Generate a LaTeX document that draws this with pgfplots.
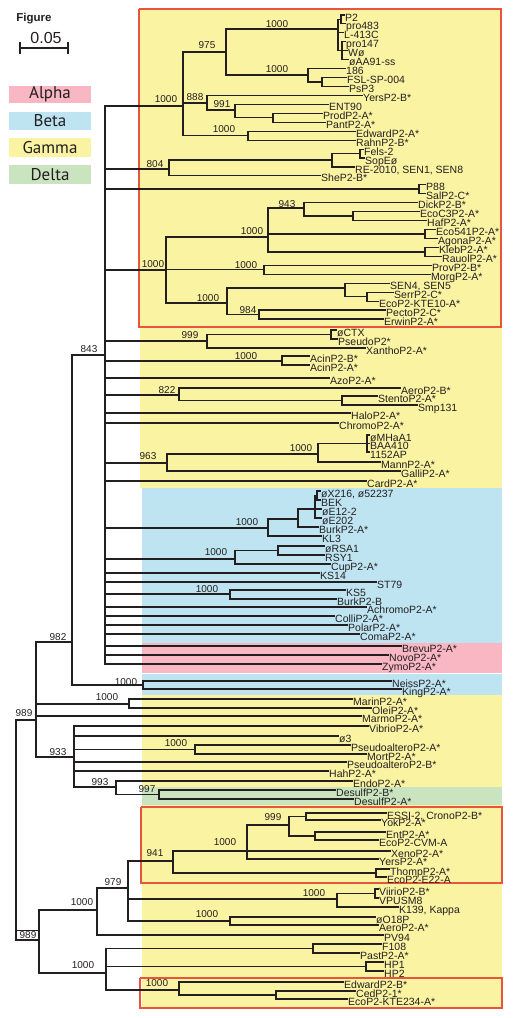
\documentclass[border=0pt]{standalone}
\usepackage{pgfplots}
\pgfplotsset{compat=1.18}
\usepackage{pgfplotstable}
\usepackage{fontspec}
\setmainfont{Liberation Sans}
\newfontfamily\legfont{PT Sans}
\definecolor{yel}{HTML}{FAF3A2}
\definecolor{blu}{HTML}{BEE4F2}
\definecolor{pnk}{HTML}{F8B7C3}
\definecolor{grn}{HTML}{CBE4C0}
\definecolor{redb}{HTML}{E8553C}
\definecolor{txt}{HTML}{231F20}

% edges: parent x, parent y, child x, child y (pixel units, y downwards)
\pgfplotstableread{
px py cx cy
16 720 36 720
16 720 39 940
36 720 72 642
36 720 129 704
36 720 361 716
36 720 74 757
72 642 105 355
72 642 143 685
105 355 183 106
105 355 169 169
105 355 419 189
105 355 166 270
105 355 207 341
105 355 282 361
105 355 329 378
105 355 179 395
105 355 350 413
105 355 338 423
105 355 167 463
105 355 366 481
105 355 268 528
105 355 235 559
105 355 319 573
105 355 376 582
105 355 230 594
105 355 366 607
105 355 334 616
105 355 347 625
105 355 359 634
105 355 401 646
105 355 388 655
105 355 381 664
183 106 226 52
183 106 207 103
183 106 248 135.7
226 52 338 29
226 52 308 75
338 29 341 19.5
338 29 343 32.9
338 29 342 50.8
341 19.5 344 15
341 19.5 345 23.9
342 50.8 345 41.8
342 50.8 347 50.8
342 50.8 348 59.7
308 75 345 68.6
308 75 322 82
322 82 346 77.6
322 82 348 86.5
207 103 362 95.5
207 103 235 110
235 110 328 104.4
235 110 273 117.8
273 117.8 322 113.3
273 117.8 325 122.3
248 135.7 355 131.2
248 135.7 355 140.2
169 169 332 160
169 169 320 175.9
332 160 360 153.5
332 160 354 167
360 153.5 363 149.1
360 153.5 364 158
419 189 425 184.9
419 189 425 193.8
166 270 268 237
166 270 264 269.8
166 270 227 303
268 237 304 208
268 237 425 234
268 237 425 252
304 208 417 202.7
304 208 353 216
353 216 419 211.7
353 216 426 220.6
425 234 435 229.6
425 234 437 238.5
425 252 438 247.4
425 252 441 256.4
264 269.8 431 265.3
264 269.8 430 274.3
227 303 345 288
227 303 259 314.5
345 288 389 283.2
345 288 367 296.6
367 296.6 393 292.1
367 296.6 378 301.1
259 314.5 385 310
259 314.5 383 319
207 341 331 334.5
207 341 365 348
331 334.5 336 330
331 334.5 337 339
282 361 309 356
282 361 309 365
179 395 400 388
179 395 342 400.5
342 400.5 377 396
342 400.5 417 405
167 463 318 454
167 463 400 471
318 454 367 443.5
318 454 380 462
367 443.5 369 435
367 443.5 369 443.5
367 443.5 369 452
268 528 298 519
268 528 321 536
298 519 315 509
298 519 318 527
315 509 317 495.5
315 509 321 509
315 509 321 518
317 495.5 320 491
317 495.5 320 500
235 559 278 550.5
235 559 330 564
278 550.5 324 546
278 550.5 324 555
230 594 345 590
230 594 336 599
143 685 391 681
143 685 401 689
129 704 352 699
129 704 371 708
74 757 368 726
74 757 338 736
74 757 195 749.5
74 757 346 762
74 757 328 771
74 757 116 787
195 749.5 350 745
195 749.5 366 754
116 787 352 781
116 787 159 794.5
159 794.5 335 790
159 794.5 353 799
39 940 97 910
39 940 106 973
97 910 128 888
97 910 383 935
128 888 173 861
128 888 337 899
128 888 230 921
173 861 247 851
173 861 376 873
247 851 289 825
247 851 390 851
247 851 378 859
289 825 306 816.5
289 825 315 836
306 816.5 386 813
306 816.5 380 820
315 836 385 832
315 836 378 840
376 873 389 869
376 873 386 877
337 899 375 893.5
337 899 398 907
375 893.5 378 889
375 893.5 378 898
230 921 375 917
230 921 378 925
106 973 313 948.5
106 973 366 966.5
106 973 179 990
313 948.5 381 944
313 948.5 359 953
366 966.5 383 962
366 966.5 383 971
179 990 343 982
179 990 276 995
276 995 355 991
276 995 347 999
}\edges

\pgfplotstableread{
x y label
344 15 P2
345 23.9 pro483
343 32.9 L-413C
345 41.8 pro147
347 50.8 Wø
348 59.7 øAA91-ss
345 68.6 186
346 77.6 FSL-SP-004
348 86.5 PsP3
362 95.5 YersP2-B*
328 104.4 ENT90
322 113.3 ProdP2-A*
325 122.3 PantP2-A*
355 131.2 EdwardP2-A*
355 140.2 RahnP2-B*
363 149.1 Fels-2
364 158 SopEø
354 167 {RE-2010, SEN1, SEN8}
320 175.9 SheP2-B*
425 184.9 P88
425 193.8 SalP2-C*
417 202.7 DickP2-B*
419 211.7 EcoC3P2-A*
426 220.6 HafP2-A*
435 229.6 Eco541P2-A*
437 238.5 AgonaP2-A*
438 247.4 KlebP2-A*
441 256.4 RauolP2-A*
431 265.3 ProvP2-B*
430 274.3 MorgP2-A*
389 283.2 {SEN4, SEN5}
393 292.1 SerrP2-C*
378 301.1 EcoP2-KTE10-A*
385 310 PectoP2-C*
383 319 ErwinP2-A*
336 330 øCTX
337 339 PseudoP2*
365 348 XanthoP2-A*
309 356 AcinP2-B*
309 365 AcinP2-A*
329 378 AzoP2-A*
400 388 AeroP2-B*
377 396 StentoP2-A*
417 405 Smp131
350 413 HaloP2-A*
338 423 ChromoP2-A*
369 435 øMHaA1
369 443.5 BAA410
369 452 1152AP
380 462 MannP2-A*
400 471 GalliP2-A*
366 481 CardP2-A*
320 491 {øX216, ø52237}
320 500 BEK
321 509 øE12-2
321 518 øE202
318 527 BurkP2-A*
321 536 KL3
324 546 øRSA1
324 555 RSY1
330 564 CupP2-A*
319 573 KS14
376 582 ST79
345 590 KS5
336 599 BurkP2-B
366 607 AchromoP2-A*
334 616 ColliP2-A*
347 625 PolarP2-A*
359 634 ComaP2-A*
401 646 BrevuP2-A*
388 655 NovoP2-A*
381 664 ZymoP2-A*
391 681 NeissP2-A*
401 689 KingP2-A*
352 699 MarinP2-A*
371 708 OleiP2-A*
361 716 MarmoP2-A*
368 726 VibrioP2-A*
338 736 ø3
350 745 PseudoalteroP2-A*
366 754 MortP2-A*
346 762 PseudoalteroP2-B*
328 771 HahP2-A*
352 781 EndoP2-A*
335 790 DesulfP2-B*
353 799 DesulfP2-A*
386 813 {ESSI-2, CronoP2-B*}
380 820 YokP2-A*
385 832 EntP2-A*
378 840 EcoP2-CVM-A
390 851 XenoP2-A*
378 859 YersP2-A*
389 869 ThompP2-A*
386 877 EcoP2-E22-A
378 889 ViirioP2-B*
378 898 VPUSM8
398 907 {K139, Kappa}
375 917 øO18P
378 925 AeroP2-A*
383 935 PV94
381 944 F108
359 953 PastP2-A*
383 962 HP1
383 971 HP2
343 982 EdwardP2-B*
355 991 CedP2-1*
347 999 EcoP2-KTE234-A*
}\leaves

\pgfplotstableread{
x y label
207 45 975
277 24 1000
277 69 1000
166 99 1000
195 97 888
222 104 991
224 129 1000
155 164 804
287 204 943
252 231 1000
153 264 1000
246 265 1000
208 298 1000
248 310 984
190 335 999
89 349 843
246 356 1000
167 390 822
301 448 1000
148 456 963
247 522 1000
216 552 1000
207 589 1000
58 637 982
126 682 1000
107 697 1000
24 713 989
58 752 933
176 743 1000
100 782 993
147 789 997
273 817 999
225 842 1000
155 853 941
113 882 979
82 902 1000
314 893 1000
207 914 1000
28 935 989
83 965 1000
157 983 1000
}\boots

\begin{document}
\begin{tikzpicture}
\begin{axis}[
  scale only axis, width=512pt, height=1018pt,
  xmin=0, xmax=512, ymin=0, ymax=1018, y dir=reverse,
  hide axis, clip=false,
]
% frame for the bounding box
\addplot[draw=none] coordinates {(0,0) (512,1018)};
% clade shading
\addplot[fill=yel, draw=none] coordinates {(140,9) (502,9) (502,488) (140,488)};
\addplot[fill=blu, draw=none] coordinates {(142,488) (502,488) (502,643) (142,643)};
\addplot[fill=pnk, draw=none] coordinates {(142,643) (502,643) (502,673) (142,673)};
\addplot[fill=blu, draw=none] coordinates {(142,674) (502,674) (502,695) (142,695)};
\addplot[fill=yel, draw=none] coordinates {(142,695) (502,695) (502,787) (142,787)};
\addplot[fill=grn, draw=none] coordinates {(142,787) (502,787) (502,805) (142,805)};
\addplot[fill=yel, draw=none] coordinates {(142,805) (502,805) (502,1008) (142,1008)};
% red boxes
\addplot[redb, line width=1.3pt] coordinates {(139,9) (501,9) (501,327) (139,327) (139,9)};
\addplot[redb, line width=1.3pt] coordinates {(141,807) (502,807) (502,883) (141,883) (141,807)};
\addplot[redb, line width=1.3pt] coordinates {(140,978) (502,978) (502,1008) (140,1008) (140,978)};
% legend boxes
\addplot[fill=pnk, draw=none] coordinates {(9,86) (91,86) (91,103) (9,103)};
\addplot[fill=blu, draw=none] coordinates {(9,112) (91,112) (91,130) (9,130)};
\addplot[fill=yel, draw=none] coordinates {(9,138) (91,138) (91,157) (9,157)};
\addplot[fill=grn, draw=none] coordinates {(9,165) (91,165) (91,184) (9,184)};
% tree: vertical then horizontal parts of each edge
\addplot[txt, line width=1.1pt, line cap=rect,
  quiver={u=0, v=\thisrow{cy}-\thisrow{py}}] table[x=px, y=py] {\edges};
\addplot[txt, line width=1.1pt, line cap=rect,
  quiver={u=\thisrow{cx}-\thisrow{px}, v=0}] table[x=px, y=cy] {\edges};
\addplot[txt, line width=1pt] coordinates {(16,930) (39,930)};
% scale bar
\addplot[txt, line width=1.1pt] coordinates {(20,48) (68,48)};
\addplot[txt, line width=1.1pt] coordinates {(20,42) (20,54)};
\addplot[txt, line width=1.1pt] coordinates {(68,42) (68,54)};
% leaf labels
\addplot[draw=none, nodes near coords, point meta=explicit symbolic,
  nodes near coords style={anchor=base west, inner sep=1pt, yshift=-6pt,
    text=txt, font=\fontsize{10.5}{12}\selectfont}]
  table[x=x, y=y, meta=label] {\leaves};
% bootstrap labels
\addplot[draw=none, nodes near coords, point meta=explicit symbolic,
  nodes near coords style={anchor=center, inner sep=0pt,
    text=txt, font=\fontsize{10}{12}\selectfont}]
  table[x=x, y=y, meta=label] {\boots};
% legend text
\node[text=txt, font=\bfseries\fontsize{11.5}{13}\selectfont] at (axis cs:34,19) {Figure};
\node[text=txt, font=\fontsize{16}{18}\selectfont] at (axis cs:46,38) {0.05};
\node[text=txt, font=\legfont\fontsize{17}{18}\selectfont] at (axis cs:50,94.5) {Alpha};
\node[text=txt, font=\legfont\fontsize{17}{18}\selectfont] at (axis cs:50,121) {Beta};
\node[text=txt, font=\legfont\fontsize{17}{18}\selectfont] at (axis cs:50,147.5) {Gamma};
\node[text=txt, font=\legfont\fontsize{17}{18}\selectfont] at (axis cs:50,174.5) {Delta};
\end{axis}
\end{tikzpicture}
\end{document}
